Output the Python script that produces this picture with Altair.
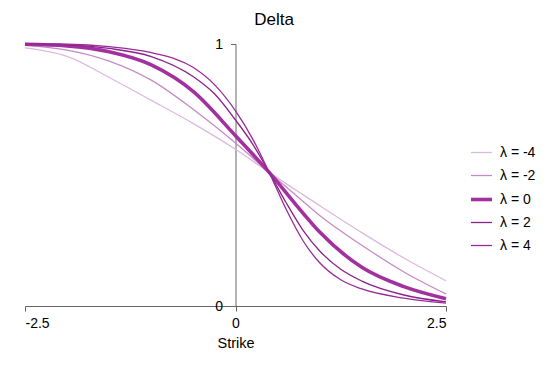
import altair as alt
import pandas as pd

series = ["λ = -4", "λ = -2", "λ = 0", "λ = 2", "λ = 4"]
colors = ["#dcbadb", "#c68bc5", "#a3309f", "#8a2288", "#9b2a99"]
widths = [1.3, 1.3, 3.6, 1.3, 1.3]

strike_m4 = [-2.5, -2.25, -2.0, -1.5, -1.0, -0.5, 0.0, 0.4, 0.8, 1.0, 1.5, 2.0, 2.5]
delta_m4 = [0.985, 0.973, 0.953, 0.872, 0.785, 0.696, 0.598, 0.51, 0.425, 0.383, 0.28, 0.183, 0.096]

strike_m2 = [-2.5, -2.0, -1.5, -1.0, -0.5, 0.0, 0.4, 0.8, 1.0, 1.5, 2.0, 2.5]
delta_m2 = [0.995, 0.977, 0.935, 0.862, 0.75, 0.622, 0.51, 0.40, 0.345, 0.232, 0.13, 0.046]

strike_0 = [-2.5, -2.0, -1.5, -1.0, -0.5, 0.0, 0.4, 0.8, 1.0, 1.5, 2.0, 2.5]
delta_0 = [0.999, 0.993, 0.97, 0.92, 0.818, 0.65, 0.51, 0.355, 0.282, 0.148, 0.074, 0.028]

strike_p2 = [-2.5, -2.0, -1.5, -1.0, -0.5, -0.25, 0.0, 0.2, 0.4, 0.6, 0.8, 1.0, 1.25, 1.5, 2.0, 2.5]
delta_p2 = [1.0, 0.997, 0.983, 0.952, 0.875, 0.81, 0.71, 0.62, 0.51, 0.395, 0.29, 0.21, 0.14, 0.095, 0.042, 0.016]

strike_p4 = [-2.5, -2.0, -1.5, -1.0, -0.5, -0.25, 0.0, 0.2, 0.4, 0.6, 0.8, 1.0, 1.25, 1.5, 2.0, 2.5]
delta_p4 = [1.0, 0.999, 0.99, 0.967, 0.91, 0.845, 0.745, 0.64, 0.51, 0.37, 0.25, 0.165, 0.10, 0.065, 0.03, 0.011]

rows = []
for name, xs, ys in zip(series,
                        [strike_m4, strike_m2, strike_0, strike_p2, strike_p4],
                        [delta_m4, delta_m2, delta_0, delta_p2, delta_p4]):
    for xv, yv in zip(xs, ys):
        rows.append({"series": name, "strike": xv, "delta": yv})
df = pd.DataFrame(rows)

FONT = "Liberation Sans"
legend = alt.Legend(
    title=None, orient="none", legendX=444, legendY=97,
    symbolType="stroke", symbolSize=441, labelFontSize=14, labelFont=FONT,
    labelColor="#000000", labelOffset=6, rowPadding=4, padding=0,
)

chart = alt.Chart(df).mark_line(interpolate="monotone").encode(
    x=alt.X("strike:Q",
            scale=alt.Scale(domain=[-2.5, 2.5], nice=False, zero=False),
            axis=alt.Axis(values=[-2.5, 0, 2.5], title="Strike", grid=False,
                          labelExpr="toString(datum.value)",
                          domainColor="#666666", tickColor="#666666",
                          tickSize=5, labelFontSize=14, titleFontSize=14.5,
                          labelFont=FONT, titleFont=FONT, titleFontWeight="normal",
                          labelColor="#000000", titleColor="#000000",
                          labelPadding=5, titlePadding=6)),
    y=alt.Y("delta:Q",
            scale=alt.Scale(domain=[0, 1], nice=False),
            axis=alt.Axis(values=[0, 1], title=None, grid=False, offset=-210.5,
                          labelExpr="toString(datum.value)",
                          domainColor="#666666", tickColor="#666666",
                          tickSize=5, labelFontSize=14, labelFont=FONT,
                          labelColor="#000000", labelPadding=8)),
    color=alt.Color("series:N", sort=series,
                    scale=alt.Scale(type="ordinal", domain=series, range=colors),
                    legend=legend),
    strokeWidth=alt.StrokeWidth("series:N", sort=series,
                                scale=alt.Scale(type="ordinal", domain=series, range=widths),
                                legend=legend),
).properties(
    width=421, height=262,
    title=alt.TitleParams("Delta", fontSize=17, font=FONT, fontWeight="normal",
                          anchor="middle", frame="group", dx=38.5, offset=8,
                          color="#000000"),
    autosize=alt.AutoSizeParams(type="none"),
    padding={"left": 17, "top": 36, "right": 94, "bottom": 52},
).configure_view(stroke=None)

chart.save("out.html", embed_options={"renderer": "svg", "actions": False})
